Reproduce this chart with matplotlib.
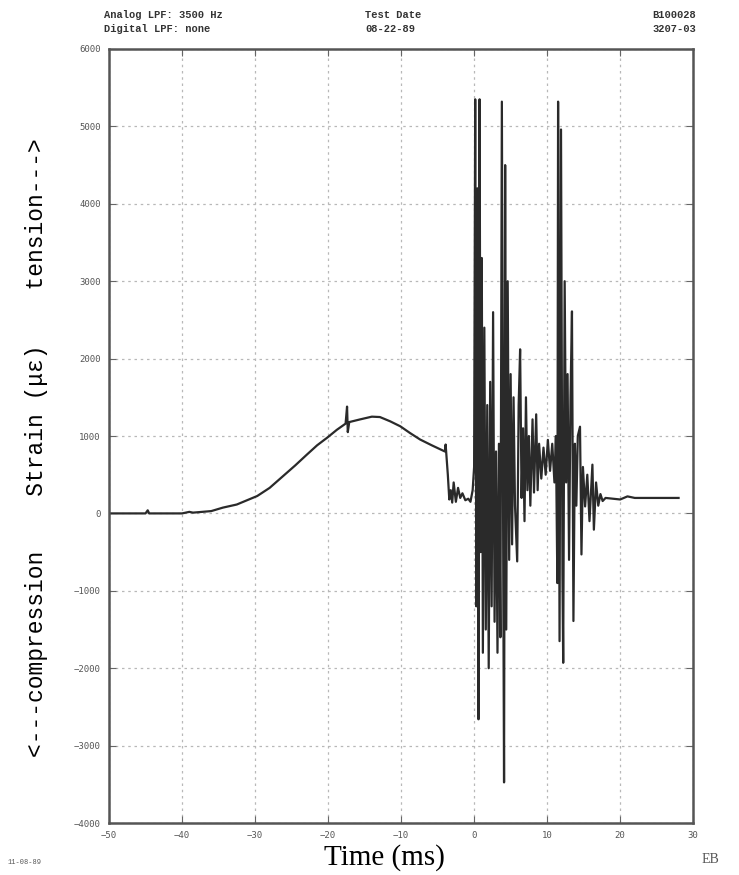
import matplotlib.pyplot as plt

# data (time in ms, strain in microstrain)
time_ms = [-50, -45, -44.7, -44.5, -40, -39, -38.5, -36, -34.4, -32.5, -29.7, -28,
           -26.2, -24.5, -22.9, -21.5, -20.1, -18.8, -17.6, -17.4, -17.3, -17.1,
           -15.6, -14, -12.9, -11.5, -10.1, -8.8, -7.4, -5.8, -4.0, -3.9, -3.8,
           -3.6, -3.4, -3.2, -3.0, -2.8, -2.5, -2.2, -1.9, -1.6, -1.2, -0.8, -0.5,
           -0.2, 0.0, 0.15, 0.3, 0.45, 0.6, 0.75, 0.9, 1.05, 1.2, 1.4, 1.6, 1.8,
           2.0, 2.2, 2.4, 2.6, 2.8, 3.0, 3.2, 3.4, 3.6, 3.8, 4.0, 4.1, 4.25, 4.4,
           4.6, 4.8, 5.0, 5.2, 5.4, 5.6, 5.9, 6.1, 6.3, 6.5, 6.7, 6.9, 7.1, 7.3,
           7.5, 7.7, 8.0, 8.2, 8.5, 8.7, 8.9, 9.2, 9.5, 9.8, 10.1, 10.4, 10.7,
           11.0, 11.2, 11.4, 11.5, 11.7, 11.9, 12.1, 12.2, 12.4, 12.6, 12.8, 13.0,
           13.2, 13.4, 13.6, 13.8, 14.0, 14.2, 14.5, 14.7, 14.9, 15.2, 15.5, 15.8,
           16.2, 16.4, 16.7, 17.0, 17.3, 17.6, 18, 19, 20, 21, 22, 28]
strain = [0, 0, 40, 0, 0, 20, 10, 30, 75, 115, 225, 330,
          480, 620, 760, 880, 980, 1080, 1160, 1380, 1050, 1180,
          1215, 1250, 1245, 1190, 1125, 1040, 955, 880, 800, 890, 760,
          500, 180, 300, 140, 400, 150, 330, 200, 260, 170, 190, 150,
          300, 600, 5350, -1200, 4200, -2660, 5350, -500, 3300, -1800, 2400, -1500, 1400,
          -2000, 1700, -1200, 2600, -1400, 800, -1800, 900, -1600, 5320, -1000, -3475, 4500, -1500,
          3000, -600, 1800, -400, 1500, 100, -620, 1400, 2120, 200, 1100, -100, 1500, 300,
          1000, 100, 1215, 270, 1280, 300, 900, 450, 850, 500, 950, 550, 900,
          400, 1000, -900, 5320, -1650, 4960, -800, -1930, 3000, 400, 1800, -600,
          1500, 2610, -1390, 900, 100, 1000, 1120, -530, 600, 90, 500, -100,
          630, -210, 400, 100, 250, 160, 200, 190, 180, 220, 200, 200]

x_ticks = [-50, -40, -30, -20, -10, 0, 10, 20, 30]
y_ticks = [-4000, -3000, -2000, -1000, 0, 1000, 2000, 3000, 4000, 5000, 6000]

fig = plt.figure(figsize=(7.39, 8.75), dpi=100)
ax = fig.add_axes([0.1475, 0.0594, 0.7905, 0.8846])

ax.plot(time_ms, strain, color='#2a2a2a', linewidth=1.6)

ax.set_xlim(-50, 30)
ax.set_ylim(-4000, 6000)
ax.set_xticks(x_ticks)
ax.set_yticks(y_ticks)
ax.grid(True, color='#b8b8b8', linestyle=(0, (2, 3)), linewidth=0.9)
ax.tick_params(direction='in', length=5, top=True, right=True,
               labelsize=6.5, labelcolor='#555555', color='#666666', pad=6)
for lab in ax.get_xticklabels() + ax.get_yticklabels():
    lab.set_family('DejaVu Sans Mono')
for s in ax.spines.values():
    s.set_color('#555555')
    s.set_linewidth(1.8)

ax.set_xlabel('Time (ms)', family='Liberation Serif', fontsize=21)
ax.xaxis.set_label_coords(0.471, -0.027)
ax.set_ylabel('<---compression    Strain (\u03bc\u03b5)    tension--->',
              family='Liberation Mono', fontsize=16.5)
ax.yaxis.set_label_coords(-0.105, 0.485)

hdr = dict(family='Liberation Mono', fontsize=7.5, color='#333333', weight='bold')
fig.text(104 / 739, 1 - 18 / 875, 'Analog LPF: 3500 Hz', **hdr)
fig.text(104 / 739, 1 - 32 / 875, 'Digital LPF: none', **hdr)
fig.text(365 / 739, 1 - 18 / 875, 'Test Date', **hdr)
fig.text(365 / 739, 1 - 32 / 875, '08-22-89', **hdr)
fig.text(696 / 739, 1 - 18 / 875, 'B100028', ha='right', **hdr)
fig.text(696 / 739, 1 - 32 / 875, '3207-03', ha='right', **hdr)
fig.text(8 / 739, 1 - 864 / 875, '11-08-89', family='Liberation Mono', fontsize=5, color='#555555')
fig.text(702 / 739, 1 - 863 / 875, 'EB', family='Liberation Serif', fontsize=10, color='#555555')

fig.savefig('out.png', dpi=100)
